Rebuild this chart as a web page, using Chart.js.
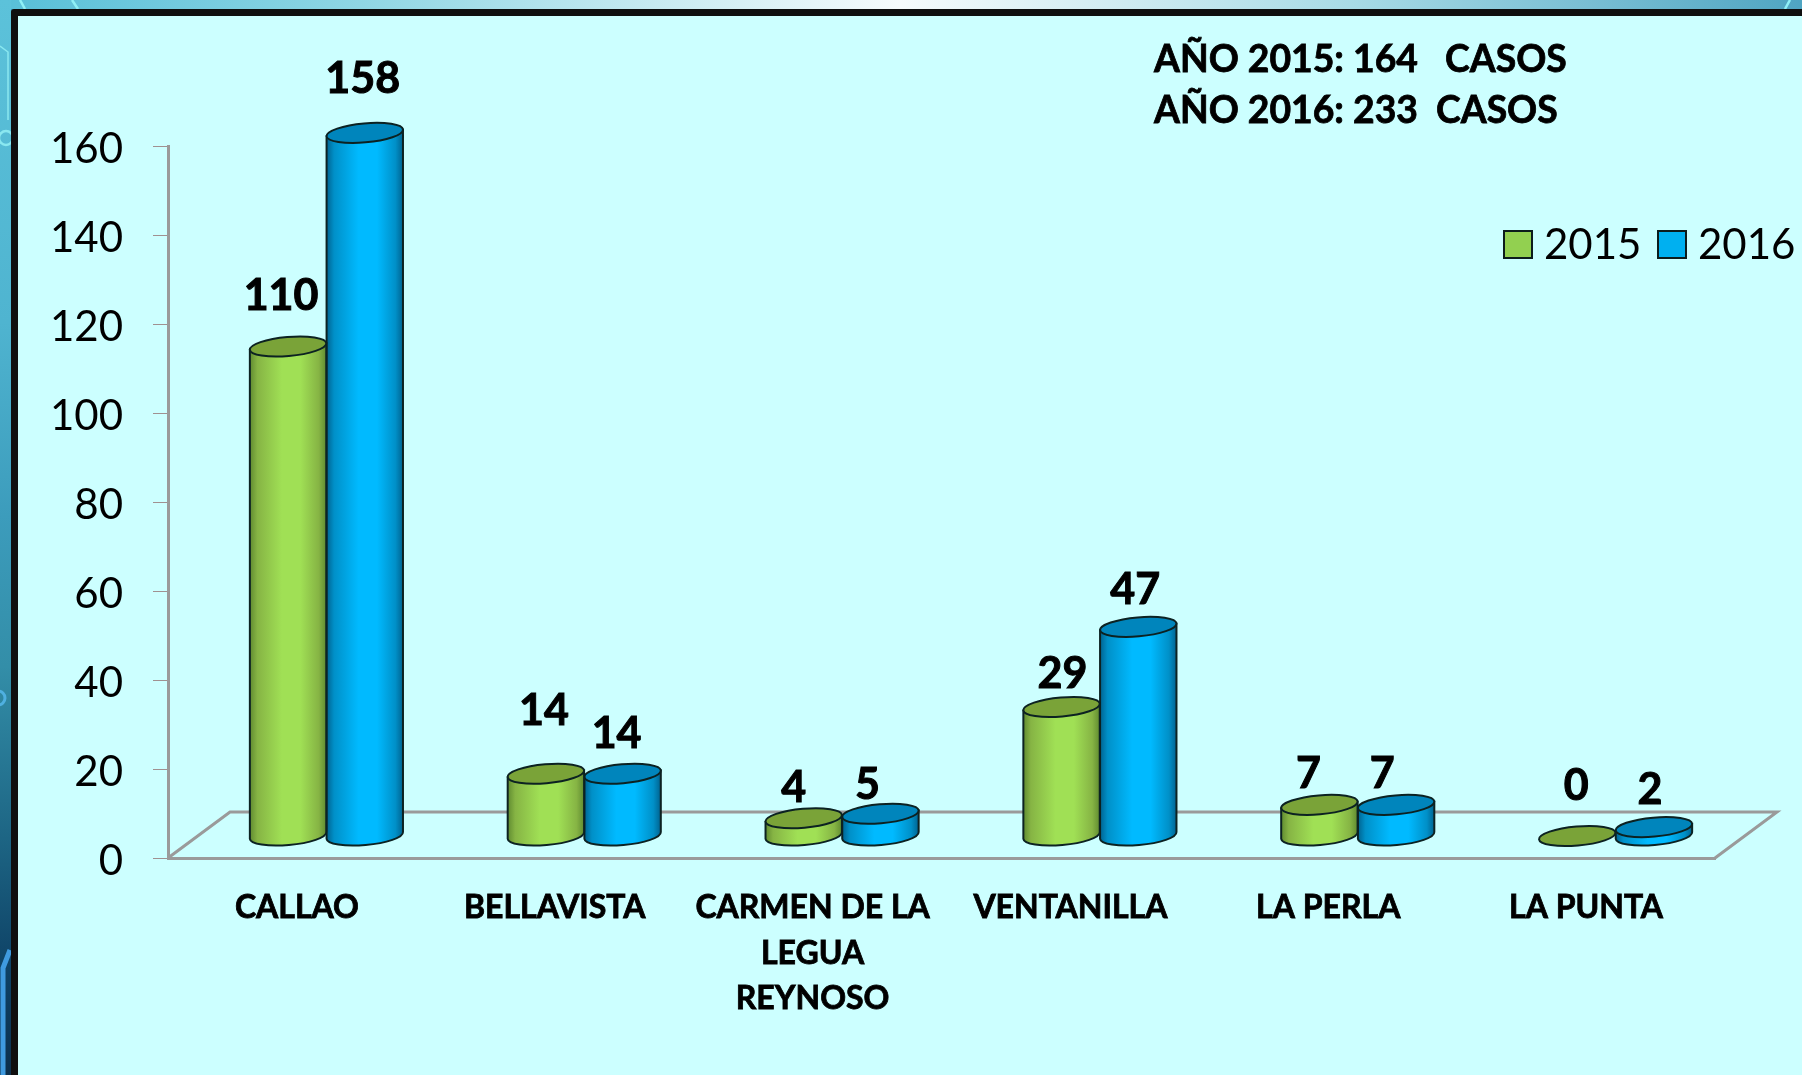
<!DOCTYPE html>
<html lang="es">
<head>
<meta charset="utf-8">
<title>Casos 2015-2016</title>
<script src="https://cdn.jsdelivr.net/npm/chart.js@4/dist/chart.umd.js"></script>
<style>
html,body{margin:0;padding:0;width:1802px;height:1075px;overflow:hidden;background:#3a9cbc}
.abs{position:absolute}
#strip-top{left:0;top:0;width:1802px;height:9px;background:linear-gradient(90deg,#57bfd8 0%,#8fd6e4 20%,#f6fbfc 50%,#a8dbe6 75%,#4fa5c2 100%)}
#strip-left{left:0;top:0;width:11px;height:1075px;background:linear-gradient(180deg,#5cc2da 0%,#4fb4d0 30%,#3c9cbc 48%,#338ea8 62%,#1d6584 78%,#0e4266 90%,#0c2f4c 100%)}
#frame{left:11px;top:9px;width:1791px;height:1066px;background:#0f0f0f;border-top-left-radius:3px}
#panel{left:18px;top:16px;width:1784px;height:1059px;background:#ccffff}
#deco{left:0;top:0}
canvas{position:absolute;left:0;top:0}
</style>
</head>
<body>
<div class="abs" id="strip-top"></div>
<div class="abs" id="strip-left"></div>
<svg class="abs" id="deco" width="1802" height="1075" fill="none">
  <path d="M20 0L25 9M72 0L78 9M1785 9L1790 0" stroke="#8ff0f6" stroke-width="2.5"/>
  <path d="M0 46L8 52V120" stroke="#8ae8f0" stroke-width="1.5"/>
  <circle cx="6" cy="138" r="7" stroke="#8ae8f0" stroke-width="2.5"/>
  <circle cx="-2" cy="698" r="7" stroke="#4fb0e0" stroke-width="3"/>
  <path d="M3 1075V968L10 950" stroke="#3f9adf" stroke-width="5"/>
</svg>
<div class="abs" id="frame"></div>
<div class="abs" id="panel"></div>
<canvas id="c" width="1802" height="1075"></canvas>
<script>
const categories = [["CALLAO"],["BELLAVISTA"],["CARMEN DE LA","LEGUA","REYNOSO"],["VENTANILLA"],["LA PERLA"],["LA PUNTA"]];
const seriesNames = ["2015","2016"];
const values2015 = [110,14,4,29,7,0];
const values2016 = [158,14,5,47,7,2];
const yTicks = [0,20,40,60,80,100,120,140,160];
const summaryLines = ["AÑO 2015: 164   CASOS","AÑO 2016: 233  CASOS"];

/* hand placement of the value labels relative to each cylinder top */
const nudge2015 = [[-7,-50],[-2,-63],[-10,-30],[1,-33],[-11,-31],[-1,-50]];
const nudge2016 = [[-2,-54],[-6,-40],[-13,-29],[-3,-37],[-14,-31],[-4,-37]];

const FONT = 'Lato, Carlito, sans-serif';
const DEPTH = {x:62, y:-46};
const SHIFT = {x:29.5, y:-22};
const TILT = -5*Math.PI/180;
const RY = 9.5;
const looks = [
  {edge:'#5f8a30',mid:'#a0e055',side:'#86b444',top:'#7aa338',swatch:'#92d050'},
  {edge:'#00628f',mid:'#00baff',side:'#0090c8',top:'#0085bc',swatch:'#00b0f0'}
];

const floorPlugin = {
  id:'floor',
  beforeDatasetsDraw(chart){
    const {ctx,chartArea:a} = chart;
    ctx.save();
    ctx.strokeStyle='#9a9a9a'; ctx.lineWidth=3; ctx.lineJoin='miter';
    ctx.beginPath();
    ctx.moveTo(a.left,a.bottom);
    ctx.lineTo(a.left+DEPTH.x,a.bottom+DEPTH.y);
    ctx.lineTo(a.right+DEPTH.x,a.bottom+DEPTH.y);
    ctx.lineTo(a.right,a.bottom);
    ctx.stroke();
    ctx.restore();
  }
};

const cylinderPlugin = {
  id:'cylinders',
  beforeDatasetDraw(chart,args){
    const {ctx} = chart;
    const meta = args.meta, look = looks[args.index];
    meta.data.forEach(bar=>{
      const cx = bar.x+SHIFT.x, top = bar.y+SHIFT.y, bot = bar.base+SHIFT.y;
      const rx = bar.width/2;
      const dx = rx*Math.cos(TILT), dy = rx*Math.sin(TILT);
      ctx.save();
      ctx.lineWidth=2; ctx.strokeStyle='#0c2222';
      if(bot-top>0.5){
        const g = ctx.createLinearGradient(cx-rx,0,cx+rx,0);
        g.addColorStop(0,look.edge); g.addColorStop(.1,look.side);
        g.addColorStop(.42,look.mid); g.addColorStop(.66,look.mid); g.addColorStop(.9,look.side); g.addColorStop(1,look.edge);
        ctx.fillStyle=g;
        ctx.beginPath();
        ctx.moveTo(cx-dx,top-dy);
        ctx.lineTo(cx-dx,bot-dy);
        ctx.ellipse(cx,bot,rx,RY,TILT,Math.PI,0,true);
        ctx.lineTo(cx+dx,top+dy);
        ctx.closePath();
        ctx.fill(); ctx.stroke();
      }
      ctx.fillStyle=look.top;
      ctx.beginPath();
      ctx.ellipse(cx,top,rx,RY,TILT,0,Math.PI*2);
      ctx.fill(); ctx.stroke();
      ctx.restore();
    });
    return false;
  },
  afterDatasetsDraw(chart){
    const {ctx} = chart;
    ctx.save();
    ctx.font='bold 43px '+FONT; ctx.fillStyle='#000'; ctx.strokeStyle='#000'; ctx.lineWidth=1;
    ctx.textAlign='center'; ctx.textBaseline='middle';
    chart.data.datasets.forEach((ds,d)=>{
      const meta = chart.getDatasetMeta(d);
      const nudges = d===0?nudge2015:nudge2016;
      meta.data.forEach((bar,i)=>{
        const x=bar.x+SHIFT.x+nudges[i][0], y=bar.y+SHIFT.y+nudges[i][1];
        ctx.fillText(String(ds.data[i]),x,y);
        ctx.strokeText(String(ds.data[i]),x,y);
      });
    });
    ctx.restore();
  }
};

const notesPlugin = {
  id:'notes',
  afterDraw(chart){
    const {ctx} = chart;
    ctx.save();
    ctx.fillStyle='#000'; ctx.strokeStyle='#000'; ctx.lineWidth=0.8; ctx.textBaseline='middle'; ctx.textAlign='left';
    ctx.font='bold 37.3px '+FONT;
    summaryLines.forEach((t,i)=>{
      const y=i===0?60:111;
      ctx.fillText(t,1154,y); ctx.strokeText(t,1154,y);
    });
    ctx.font='42px '+FONT;
    const xs=[[1504,1544],[1658,1698]];
    chart.data.datasets.forEach((ds,i)=>{
      ctx.fillStyle=looks[i].swatch; ctx.strokeStyle='#0c1c1c'; ctx.lineWidth=2;
      ctx.fillRect(xs[i][0],231,28,27); ctx.strokeRect(xs[i][0],231,28,27);
      ctx.fillStyle='#000';
      ctx.fillText(ds.label,xs[i][1],245);
    });
    ctx.restore();
  }
};

new Chart(document.getElementById('c'),{
  type:'bar',
  data:{
    labels:categories,
    datasets:[
      {label:seriesNames[0],data:values2015,backgroundColor:looks[0].swatch},
      {label:seriesNames[1],data:values2016,backgroundColor:looks[1].swatch}
    ]
  },
  plugins:[floorPlugin,cylinderPlugin,notesPlugin],
  options:{
    responsive:false,
    animation:false,
    devicePixelRatio:1,
    layout:{padding:{left:0,top:146,right:87,bottom:0}},
    datasets:{bar:{barPercentage:1,categoryPercentage:0.595}},
    plugins:{legend:{display:false},tooltip:{enabled:false},title:{display:false}},
    scales:{
      x:{
        afterFit(s){s.height=217;},
        grid:{display:false},
        border:{color:'#9a9a9a',width:3},
        ticks:{color:'#000',font:{family:FONT,size:32,weight:'bold',lineHeight:45.5/32},padding:19,maxRotation:0,minRotation:0,autoSkip:false,textStrokeColor:'#000',textStrokeWidth:0.8}
      },
      y:{
        min:0,max:160,
        afterFit(s){s.width=168;},
        afterBuildTicks(s){s.ticks=yTicks.map(v=>({value:v}));},
        grid:{drawOnChartArea:false,drawTicks:true,tickLength:15,color:'#a09090'},
        border:{color:'#9a9a9a',width:3},
        ticks:{color:'#000',font:{family:FONT,size:42,lineHeight:0.15},padding:30,callback:v=>['',String(v)]}
      }
    }
  }
});
</script>
</body>
</html>
